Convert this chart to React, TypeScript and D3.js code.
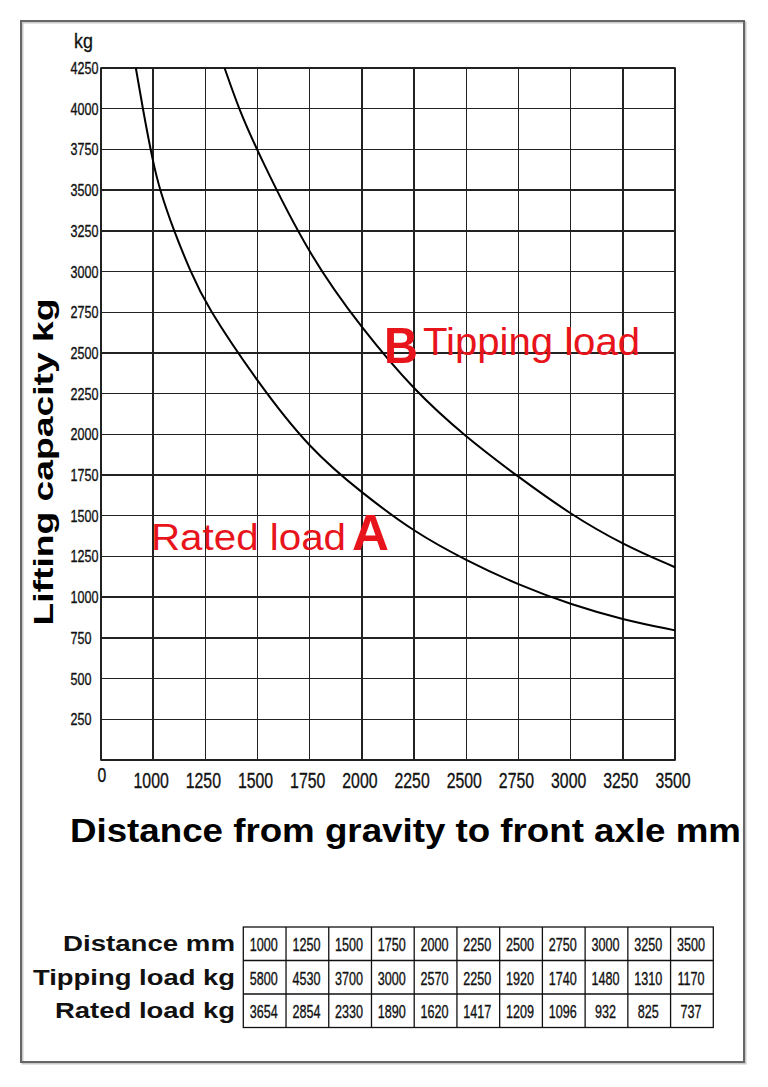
import React from "react";
import * as d3 from "d3";

// ---------- data ----------
const distanceTicks = [1000, 1250, 1500, 1750, 2000, 2250, 2500, 2750, 3000, 3250, 3500];
const capacityTicks = [250, 500, 750, 1000, 1250, 1500, 1750, 2000, 2250, 2500, 2750, 3000, 3250, 3500, 3750, 4000, 4250];

// curve readings (distance mm, load kg)
const ratedCurveDistance = [917, 950, 1000, 1032, 1099, 1179, 1250, 1500, 1750, 2000, 2250, 2500, 2750, 3000, 3250, 3500];
const ratedCurveLoad = [4250, 4000, 3665, 3500, 3250, 3000, 2800, 2320, 1910, 1640, 1400, 1225, 1075, 955, 862, 796];
const tippingCurveDistance = [1342, 1410, 1500, 1750, 2000, 2250, 2500, 2750, 3000, 3250, 3500];
const tippingCurveLoad = [4250, 4000, 3735, 3090, 2650, 2269, 1981, 1738, 1508, 1323, 1184];

// table
const tableRowLabels = ["Distance mm", "Tipping load kg", "Rated load kg"];
const tableDistance = [1000, 1250, 1500, 1750, 2000, 2250, 2500, 2750, 3000, 3250, 3500];
const tableTipping = [5800, 4530, 3700, 3000, 2570, 2250, 1920, 1740, 1480, 1310, 1170];
const tableRated = [3654, 2854, 2330, 1890, 1620, 1417, 1209, 1096, 932, 825, 737];

// ---------- layout ----------
const W = 768;
const H = 1087;
const plot = { left: 101, right: 675, top: 68, bottom: 760 };
const xDomainMin = 750;
const RED = "#e8141c";
const SANS = "'Liberation Sans', Arial, Helvetica, sans-serif";

const x = d3.scaleLinear().domain([xDomainMin, 3500]).range([plot.left, plot.right]);
const y = d3.scaleLinear().domain([0, 4250]).range([plot.bottom, plot.top]);

const line = d3
  .line<[number, number]>()
  .x((d) => x(d[0]))
  .y((d) => y(d[1]))
  .curve(d3.curveBasis);

const ratedPts: [number, number][] = ratedCurveDistance.map((d, i) => [d, ratedCurveLoad[i]]);
const tippingPts: [number, number][] = tippingCurveDistance.map((d, i) => [d, tippingCurveLoad[i]]);

function NText(props: {
  x: number;
  y: number;
  sx?: number;
  size: number;
  anchor?: string;
  weight?: string | number;
  fill?: string;
  children: React.ReactNode;
}) {
  const { x: tx, y: ty, sx = 1, size, anchor = "start", weight = "normal", fill = "#111", children } = props;
  return (
    <text
      transform={`translate(${tx},${ty}) scale(${sx},1)`}
      fontSize={size}
      fontFamily={SANS}
      fontWeight={weight}
      textAnchor={anchor}
      fill={fill}
      stroke={fill}
      strokeWidth={0.35}
    >
      {children}
    </text>
  );
}

export default function App() {
  const xGrid = [xDomainMin, ...distanceTicks];
  const yGrid = [0, ...capacityTicks];

  // table geometry
  const tLeft = 243.3;
  const tRight = 713.3;
  const tTop = 927;
  const rowH = 33.5;
  const nCols = tableDistance.length;
  const colW = (tRight - tLeft) / nCols;
  const rows = [tableDistance, tableTipping, tableRated];
  const labelWidths = [172, 202, 180];

  return (
    <svg
      width={W}
      height={H}
      viewBox={`0 0 ${W} ${H}`}
      style={{ position: "absolute", left: 0, top: 0, background: "#fff" }}
    >
      <rect x={0} y={0} width={W} height={H} fill="#fff" />
      {/* frame */}
      <rect x={22.5} y={22.5} width={723} height={1041} fill="none" stroke="#c8c8c8" strokeWidth={2} />
      <rect x={21} y={21} width={723} height={1041} fill="none" stroke="#666" strokeWidth={2} />

      {/* grid */}
      <g stroke="#222" strokeWidth={1.4} shapeRendering="crispEdges">
        {xGrid.map((v) => (
          <line key={"gx" + v} x1={x(v)} x2={x(v)} y1={plot.top} y2={plot.bottom} />
        ))}
        {yGrid.map((v) => (
          <line key={"gy" + v} x1={plot.left} x2={plot.right} y1={y(v)} y2={y(v)} />
        ))}
      </g>
      <rect
        x={plot.left}
        y={plot.top}
        width={plot.right - plot.left}
        height={plot.bottom - plot.top}
        fill="none"
        stroke="#222"
        strokeWidth={1.6}
      />

      {/* curves */}
      <path d={line(ratedPts) || ""} fill="none" stroke="#000" strokeWidth={2} />
      <path d={line(tippingPts) || ""} fill="none" stroke="#000" strokeWidth={2} />

      {/* y tick labels */}
      {capacityTicks.map((v) => (
        <NText key={"yl" + v} x={70.5} y={y(v) + 6} size={17} sx={0.74}>
          {v}
        </NText>
      ))}
      <NText x={74} y={48} size={21} sx={0.85}>
        kg
      </NText>

      {/* x tick labels */}
      {distanceTicks.map((v) => (
        <NText key={"xl" + v} x={x(v) - 2} y={788} size={22} sx={0.72} anchor="middle">
          {v}
        </NText>
      ))}
      <NText x={102} y={782} size={21} sx={0.75} anchor="middle">
        0
      </NText>

      {/* axis titles */}
      <text
        transform="translate(53,462) rotate(-90)"
        fontSize={28}
        fontFamily={SANS}
        fontWeight="bold"
        textAnchor="middle"
        fill="#000"
        textLength={327}
        lengthAdjust="spacingAndGlyphs"
      >
        Lifting capacity kg
      </text>
      <text
        x={70}
        y={842}
        fontSize={33}
        fontFamily={SANS}
        fontWeight="bold"
        fill="#000"
        textLength={671}
        lengthAdjust="spacingAndGlyphs"
      >
        Distance from gravity to front axle mm
      </text>

      {/* annotations */}
      <text x={384} y={363} fontSize={50} fontFamily={SANS} fontWeight="bold" fill={RED} textLength={34} lengthAdjust="spacingAndGlyphs">
        B
      </text>
      <text x={423} y={355} fontSize={38} fontFamily={SANS} fill={RED} textLength={217} lengthAdjust="spacingAndGlyphs">
        Tipping load
      </text>
      <text x={151} y={549.5} fontSize={37} fontFamily={SANS} fill={RED} textLength={195} lengthAdjust="spacingAndGlyphs">
        Rated load
      </text>
      <text x={352} y={550} fontSize={50} fontFamily={SANS} fontWeight="bold" fill={RED} textLength={37} lengthAdjust="spacingAndGlyphs">
        A
      </text>

      {/* table */}
      <g stroke="#111" strokeWidth={1.3} fill="none">
        <rect x={tLeft} y={tTop} width={tRight - tLeft} height={rowH * 3} />
        {d3.range(1, 3).map((r) => (
          <line key={"tr" + r} x1={tLeft} x2={tRight} y1={tTop + r * rowH} y2={tTop + r * rowH} />
        ))}
        {d3.range(1, nCols).map((c) => (
          <line key={"tc" + c} x1={tLeft + c * colW} x2={tLeft + c * colW} y1={tTop} y2={tTop + 3 * rowH} />
        ))}
      </g>
      {rows.map((row, r) =>
        row.map((v, c) => (
          <NText
            key={"tv" + r + "-" + c}
            x={tLeft + c * colW + colW / 2 - 1}
            y={tTop + r * rowH + rowH / 2 + 7.5}
            size={18}
            sx={0.7}
            anchor="middle"
          >
            {v}
          </NText>
        ))
      )}
      {tableRowLabels.map((lab, r) => (
        <text
          key={"tl" + r}
          x={235}
          y={tTop + r * rowH + 24}
          fontSize={22}
          fontFamily={SANS}
          fontWeight="bold"
          textAnchor="end"
          fill="#111"
          textLength={labelWidths[r]}
          lengthAdjust="spacingAndGlyphs"
        >
          {lab}
        </text>
      ))}
    </svg>
  );
}
